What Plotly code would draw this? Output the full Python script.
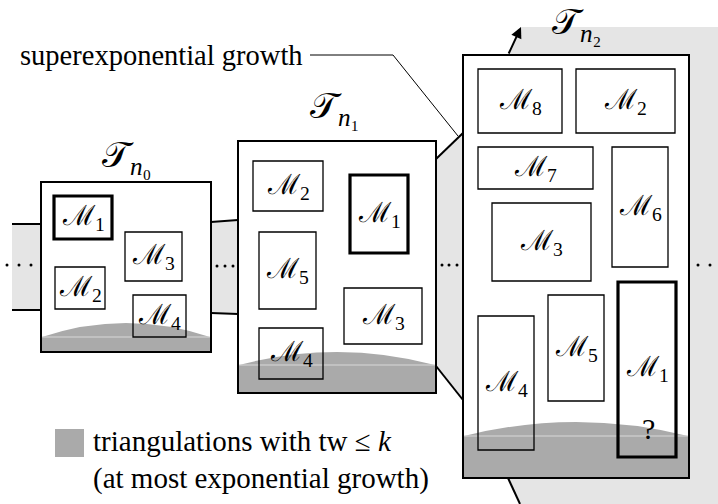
import plotly.graph_objects as go

# ---- data -------------------------------------------------------------
panel_labels = ["𝒯<sub><i>n</i>₀</sub>", "𝒯<sub><i>n</i>₁</sub>", "𝒯<sub><i>n</i>₂</sub>"]
panel_label_xy = [(126, 157), (334, 108), (576, 24)]
panel_boxes = [(41, 182, 211, 352), (238, 141, 436, 393), (463, 55, 689, 478)]
# tw<=k region per panel: (band top y, dome peak y)
tw_region = [(337, 323), (365, 352), (436, 422)]

modules_n0 = ["1", "3", "2", "4"]
boxes_n0 = [(54, 196, 112, 239), (125, 232, 182, 281), (55, 267, 105, 309), (133, 295, 186, 337)]
thick_n0 = [True, False, False, False]

modules_n1 = ["2", "1", "5", "3", "4"]
boxes_n1 = [(253, 161, 323, 211), (350, 175, 408, 253), (259, 232, 316, 309),
            (344, 288, 422, 344), (259, 328, 323, 379)]
thick_n1 = [False, True, False, False, False]

modules_n2 = ["8", "2", "7", "6", "3", "5", "4", "1"]
boxes_n2 = [(478, 69, 562, 133), (576, 69, 675, 133), (478, 147, 593, 189),
            (612, 147, 668, 267), (492, 203, 591, 281), (548, 295, 604, 401),
            (478, 316, 534, 450), (618, 282, 676, 457)]
thick_n2 = [False, False, False, False, False, False, False, True]
label_y_n2 = [None, None, None, None, None, None, None, 368]

dots_x = [7, 19, 31, 217, 225, 233, 442, 449, 457, 698, 710]
dots_y = [265, 265, 265, 266, 266, 266, 265, 265, 265, 265, 265]

LIGHT = "#e5e5e5"
DARK = "#aaaaaa"
SERIF = "Liberation Serif"

fig = go.Figure()
shapes = []
ann = []

# big growing region behind last panel
shapes.append(dict(type="path", path="M436,159 L463,133 L508,55 L521,27 L718,27 L718,504 L520,504 L508,478 L463,400 L436,366 Z",
                   fillcolor=LIGHT, line=dict(width=0), layer="below"))
# connectors
shapes.append(dict(type="path", path="M12,224 L41,224 L41,310 L12,310 Z", fillcolor=LIGHT, line=dict(width=0), layer="below"))
shapes.append(dict(type="path", path="M211,222 L238,220 L238,314 L211,313 Z", fillcolor=LIGHT, line=dict(width=0), layer="below"))
for (x0, y0, x1, y1) in [(12, 224, 41, 224), (12, 310, 41, 310), (211, 222, 238, 220), (211, 313, 238, 314),
                         (436, 159, 463, 133), (436, 366, 463, 400), (508, 478, 520, 504)]:
    shapes.append(dict(type="line", x0=x0, y0=y0, x1=x1, y1=y1, line=dict(color="black", width=2)))

# dots (drawn as markers)
fig.add_trace(go.Scatter(x=dots_x, y=dots_y, mode="markers", hoverinfo="skip",
                         marker=dict(size=3, color="black")))

# panels
for (x0, y0, x1, y1), (band, peak) in zip(panel_boxes, tw_region):
    shapes.append(dict(type="rect", x0=x0, y0=y0, x1=x1, y1=y1, fillcolor="white", line=dict(width=0)))
    ctrl = 2 * peak - band
    shapes.append(dict(type="path",
                       path=f"M{x0+1},{band} Q{(x0+x1)/2},{ctrl} {x1-1},{band} L{x1},{y1} L{x0},{y1} Z",
                       fillcolor=DARK, line=dict(width=0)))
    shapes.append(dict(type="line", x0=x0, y0=band, x1=x1, y1=band, line=dict(color="#d8d8d8", width=1)))
    shapes.append(dict(type="rect", x0=x0, y0=y0, x1=x1, y1=y1, line=dict(color="black", width=2)))

for lab, (px, py) in zip(panel_labels, panel_label_xy):
    ann.append(dict(x=px, y=py, text=lab, showarrow=False, font=dict(size=36, family=SERIF, color="black")))

def add_modules(names, boxes, thick, label_y=None):
    for i, (n, (x0, y0, x1, y1), t) in enumerate(zip(names, boxes, thick)):
        shapes.append(dict(type="rect", x0=x0, y0=y0, x1=x1, y1=y1,
                           line=dict(color="black", width=3.2 if t else 1.3)))
        ly = (y0 + y1) / 2
        if label_y and label_y[i] is not None:
            ly = label_y[i]
        ann.append(dict(x=(x0 + x1) / 2, y=ly, text=f"ℳ<sub>{n}</sub>", showarrow=False,
                        font=dict(size=28, family=SERIF, color="black")))

add_modules(modules_n0, boxes_n0, thick_n0)
add_modules(modules_n1, boxes_n1, thick_n1)
add_modules(modules_n2, boxes_n2, thick_n2, label_y_n2)

ann.append(dict(x=648, y=428, text="?", showarrow=False, font=dict(size=30, family=SERIF, color="black")))

# arrow out of last panel
ann.append(dict(x=521, y=27, ax=508, ay=55, axref="x", ayref="y", xref="x", yref="y", text="",
                showarrow=True, arrowhead=2, arrowsize=1.1, arrowwidth=2, arrowcolor="black"))

# superexponential growth label + leader
ann.append(dict(x=305, y=55, text="superexponential growth", xanchor="right", showarrow=False,
                font=dict(size=28.5, family=SERIF, color="black")))
shapes.append(dict(type="path", path="M310,55 L393,55 L458,136", line=dict(color="black", width=1)))

# legend
shapes.append(dict(type="rect", x0=55, y0=429, x1=84, y1=457, fillcolor=DARK, line=dict(width=0)))
ann.append(dict(x=91, y=441, text="triangulations with tw ≤ <i>k</i>", xanchor="left", showarrow=False,
                font=dict(size=29, family=SERIF, color="black")))
ann.append(dict(x=91, y=478, text="(at most exponential growth)", xanchor="left", showarrow=False,
                font=dict(size=29, family=SERIF, color="black")))

fig.update_layout(width=718, height=504, margin=dict(l=0, r=0, t=0, b=0),
                  plot_bgcolor="white", paper_bgcolor="white", showlegend=False,
                  shapes=shapes, annotations=ann,
                  xaxis=dict(range=[0, 718], visible=False, fixedrange=True),
                  yaxis=dict(range=[504, 0], visible=False, fixedrange=True))
fig.write_html("out.html", config=dict(displayModeBar=False),
               post_script="document.body.style.margin='0';")
